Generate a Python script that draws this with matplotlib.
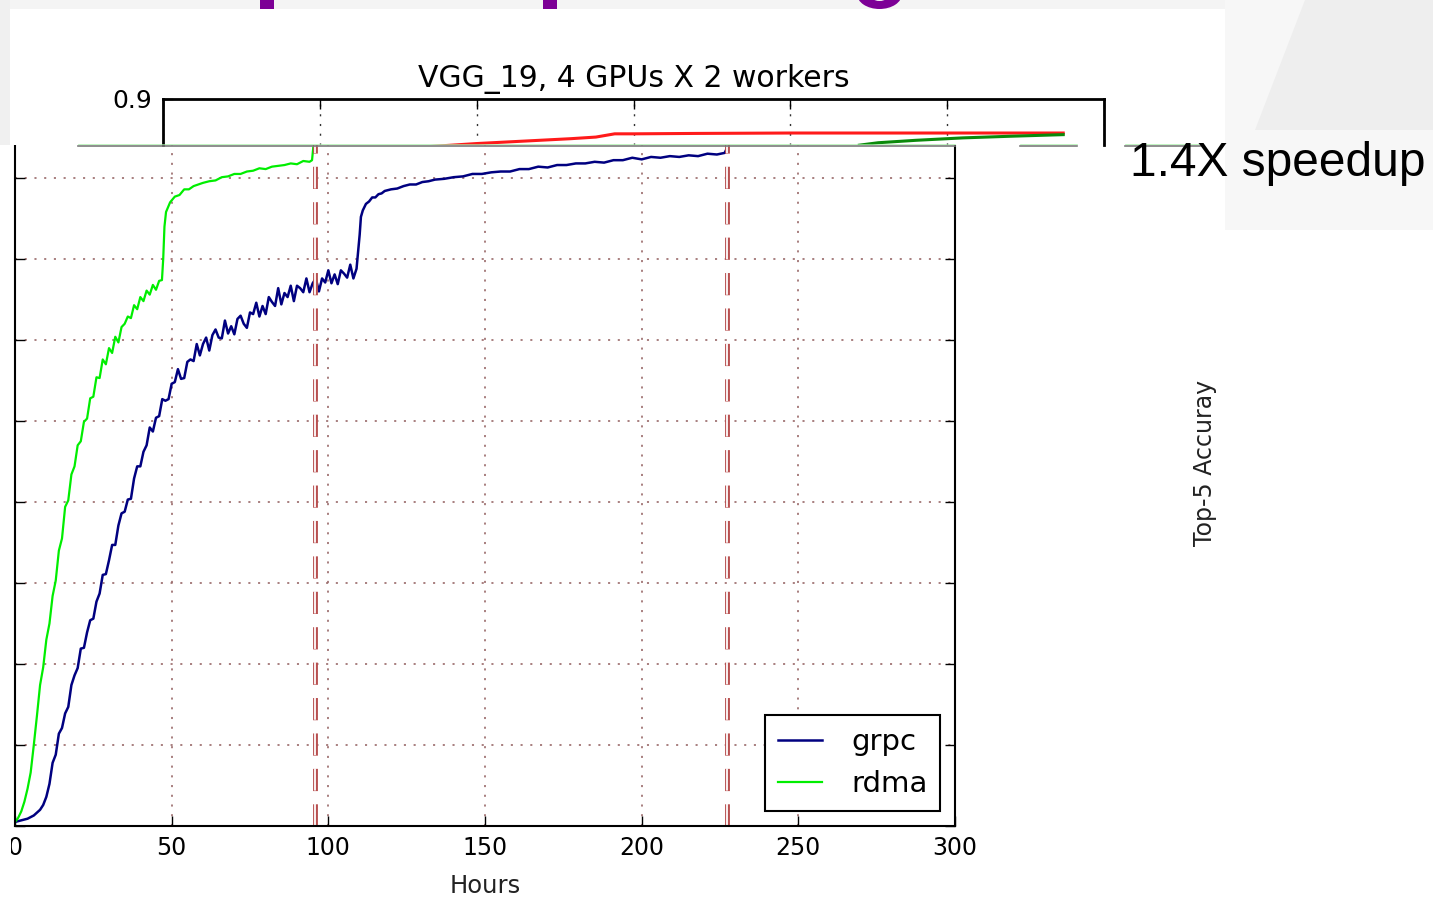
import matplotlib
matplotlib.use("Agg")
import matplotlib.pyplot as plt
from matplotlib.patches import Rectangle, Polygon, Ellipse
from matplotlib.lines import Line2D

plt.rcParams['font.family'] = ['DejaVu Sans']
plt.rcParams['lines.scale_dashes'] = False

# ---- data ----
# lower chart: VGG_19 top-5 accuracy vs hours
grpc_hours = [0, 2, 4, 6, 8, 9, 10, 11,
              12, 13, 14, 15, 16, 17, 18, 19, 20, 21, 22, 23, 24, 25, 26, 27, 28, 29, 30, 31,
              32, 33, 34, 35, 36, 37, 38, 39, 40, 41, 42, 43, 44, 45, 46, 47, 48, 49, 50, 51,
              52, 53, 54, 55, 56, 57, 58, 59, 60, 61, 62, 63, 64, 65, 66, 67, 68, 69, 70, 71,
              72, 73, 74, 75, 76, 77, 78, 79, 80, 81, 82, 83, 84, 85, 86, 87, 88, 89, 90, 91,
              92, 93, 94, 95, 96, 97, 98, 99, 100, 101, 102, 103, 104, 105, 106, 107, 108, 109,
              110.0, 110.4, 111, 112, 113, 114, 115, 116, 117, 118, 120, 122, 124, 126, 128, 130,
              132, 134, 137, 140, 143, 146, 149, 152, 155, 158, 161, 164, 167, 170, 173, 176,
              179, 182, 185, 188, 191, 194, 197, 200, 203, 206, 209, 212, 215, 218, 221, 224,
              226.5, 227.1, 227.4, 228]
grpc_acc = [.005, .007, .009, .013, .020, .026, .036, .052,
            .078, .088, .114, .121, .139, .147, .174, .186, .195, .219, .220, .239, .254, .256, .277, .287, .310, .311, .328, .347,
            .347, .371, .386, .388, .403, .404, .429, .444, .444, .462, .470, .492, .487, .504, .506, .527, .525, .527, .546, .548,
            .564, .552, .553, .573, .576, .574, .595, .581, .595, .603, .587, .606, .613, .603, .602, .624, .608, .617, .607, .626,
            .630, .620, .615, .634, .632, .646, .629, .642, .632, .653, .647, .642, .664, .644, .658, .653, .667, .648, .667, .664,
            .659, .676, .659, .670, .676, .660, .676, .671, .686, .670, .681, .669, .686, .682, .677, .693, .676, .688,
            .730, .752, .760, .768, .771, .776, .776, .780, .781, .784, .786, .787, .790, .792, .792, .795,
            .796, .798, .799, .801, .802, .805, .805, .807, .808, .808, .811, .811, .814, .813, .816, .816,
            .818, .818, .820, .819, .822, .822, .825, .823, .826, .825, .827, .826, .828, .827, .830, .829,
            .831, .836, .845, .850]

rdma_hours = [0, 1, 2, 3, 4, 5, 6, 7, 8, 9, 10, 11, 12, 13, 14, 15, 16, 17, 18, 19, 20, 21, 22, 23,
              24, 25, 26, 27, 28, 29, 30, 31, 32, 33, 34, 35, 36, 37, 38, 39, 40, 41, 42, 43, 44, 45,
              46, 46.9, 47.3, 47.7, 48.2, 49.5, 51, 52.5, 54, 55.5, 57, 58.5, 60, 62, 64, 66, 68, 70,
              72, 74, 76, 78, 80, 82, 84, 86, 88, 90, 92, 94, 94.8, 95.2, 96.4, 98, 100]
rdma_acc = [.005, .010, .018, .030, .046, .066, .100, .136, .174, .196, .230, .250, .284, .303, .340, .355, .394, .402, .434, .444, .470, .475, .499, .503,
            .528, .530, .554, .553, .576, .570, .590, .584, .604, .597, .616, .620, .629, .627, .643, .638, .653, .648, .661, .656, .668, .662,
            .673, .674, .700, .740, .758, .770, .777, .779, .786, .786, .790, .792, .794, .796, .797, .801, .802, .805,
            .805, .808, .809, .812, .811, .814, .815, .816, .818, .817, .821, .820, .822, .838, .847, .852, .855]

converge_hours = [95.7, 227.3]

# upper (overlapping) chart, only its top strip is visible
upper_red_hours = [60, 80, 100, 110, 120, 130, 138, 141, 144, 150, 170, 200, 230, 260, 287]
upper_red_acc = [.835, .840, .845, .847, .849, .851, .853, .855, .857, .857, .8575, .858, .858, .858, .858]
upper_green_hours = [222, 228, 240, 255, 270, 287]
upper_green_acc = [.843, .846, .849, .852, .854, .856]

x_ticks = [0, 50, 100, 150, 200, 250, 300]
y_ticks = [0.0, 0.1, 0.2, 0.3, 0.4, 0.5, 0.6, 0.7, 0.8, 0.9]

W, H = 1433, 900


def box(x0, y0, x1, y1):
    return [x0 / W, 1 - y1 / H, (x1 - x0) / W, (y1 - y0) / H]


def rect(x0, y0, x1, y1, color, z):
    r = Rectangle((x0 / W, 1 - y1 / H), (x1 - x0) / W, (y1 - y0) / H,
                  transform=fig.transFigure, facecolor=color, edgecolor='none', zorder=z)
    fig.add_artist(r)


def ftext(x, y, s, **kw):
    fig.text(x / W, 1 - y / H, s, **kw)


fig = plt.figure(figsize=(W / 100, H / 100), dpi=100, facecolor='white')

# slide background
rect(0, 0, W, 9, '#f4f4f4', -3)
rect(0, 0, 10, 145, '#f0f0f0', -3)
rect(1225, 0, W, 230, '#f7f7f7', -3)
fig.add_artist(Polygon([(1305 / W, 1.0), (1.0, 1.0), (1.0, 1 - 130 / H), (1255 / W, 1 - 130 / H)],
                       closed=True, transform=fig.transFigure, facecolor='#eeeeee',
                       edgecolor='none', zorder=-3))

# slide title cut by the picture: only bits of its descenders show
purple = '#7d0096'
rect(260, 0, 274, 10, purple, -2)
rect(543, 0, 557, 10, purple, -2)
fig.add_artist(Ellipse((879.5 / W, 1 + 6 / H), 45 / W, 30 / H, transform=fig.transFigure,
                       facecolor=purple, edgecolor='none', zorder=-2))
fig.add_artist(Ellipse((879.5 / W, 1 + 7 / H), 22 / W, 16 / H, transform=fig.transFigure,
                       facecolor='#f4f4f4', edgecolor='none', zorder=-2))

# ---- lower chart ----
ax = fig.add_axes(box(15, 97, 955, 826))
ax.set_zorder(0)
ax.plot(grpc_hours, grpc_acc, color='#000080', lw=1.8, label='grpc')
ax.plot(rdma_hours, rdma_acc, color='#00ee00', lw=1.6, label='rdma')
for h in converge_hours:
    ax.axvline(h, color='#b85050', lw=3.5, linestyle=(0, (16, 9.5)))
    ax.axvline(h, color='white', lw=1.3, linestyle=(0, (16, 9.5)))
ax.set_xlim(0, 300)
ax.set_ylim(0, 0.9)
ax.set_xticks(x_ticks)
ax.set_yticks(y_ticks)
ax.grid(True, color='#9a6a6a', linestyle=(0, (1.5, 5.5)), lw=1.2)
ax.tick_params(direction='in', length=7, width=1, top=True, right=True,
               labelsize=17, pad=7, labelleft=False)
for s in ax.spines.values():
    s.set_linewidth(1.5)
ax.set_xlabel('Hours', fontsize=17.5, labelpad=10, color='#222222')
leg = ax.legend(loc='lower right', fontsize=21, handlelength=1.5, handletextpad=1.0,
                borderpad=0.45, fancybox=False, framealpha=1, edgecolor='black')
leg.get_frame().set_linewidth(1.5)

# white panel of the upper picture, covering the lower chart's top
rect(10, 9, 1225, 145, 'white', 1)

# ---- upper chart ----
ax2 = fig.add_axes(box(163, 99, 1104, 145))
ax2.set_zorder(2)
ax2.set_facecolor('none')
ax2.plot(upper_red_hours, upper_red_acc, color='#ff1a1a', lw=2.2)
ax2.plot(upper_green_hours, upper_green_acc, color='#0a8a0a', lw=2.2)
ax2.set_xlim(0, 300)
ax2.set_ylim(0.9 - 46 / 810, 0.9)
ax2.set_xticks(x_ticks)
ax2.set_yticks([0.9])
ax2.set_yticklabels(['0.9'])
ax2.grid(True, axis='x', color='#333333', linestyle=(0, (1.5, 5.5)), lw=1)
ax2.tick_params(direction='in', length=7, width=1, top=True, bottom=False,
                labelbottom=False, labelsize=18, pad=8)
ax2.spines['bottom'].set_visible(False)
for s in ['top', 'left', 'right']:
    ax2.spines[s].set_linewidth(2)
ax2.set_title('VGG_19, 4 GPUs X 2 workers', fontsize=21.5, pad=9)

# seam between the two pictures
for x0, x1 in [(78, 955), (1020, 1077), (1125, 1200)]:
    fig.add_artist(Line2D([x0 / W, x1 / W], [1 - 143.5 / H] * 2, color='#a8f0a8',
                          lw=0.5, transform=fig.transFigure, zorder=3))
    fig.add_artist(Line2D([x0 / W, x1 / W], [1 - 145.5 / H] * 2, color='#7a7a7a',
                          lw=1.2, transform=fig.transFigure, zorder=3))

# crop edge on the left of the lower picture
rect(0, 146, 11, H, 'white', 4)

ftext(1130, 176, '1.4X speedup', fontsize=34.5, family='Liberation Sans',
      va='baseline', ha='left', color='black', zorder=5)
ftext(1205, 463, 'Top-5 Accuray', fontsize=17, rotation=90, ha='center', va='center',
      color='#222222', zorder=5)

fig.savefig('out.png', dpi=100, facecolor='white')
